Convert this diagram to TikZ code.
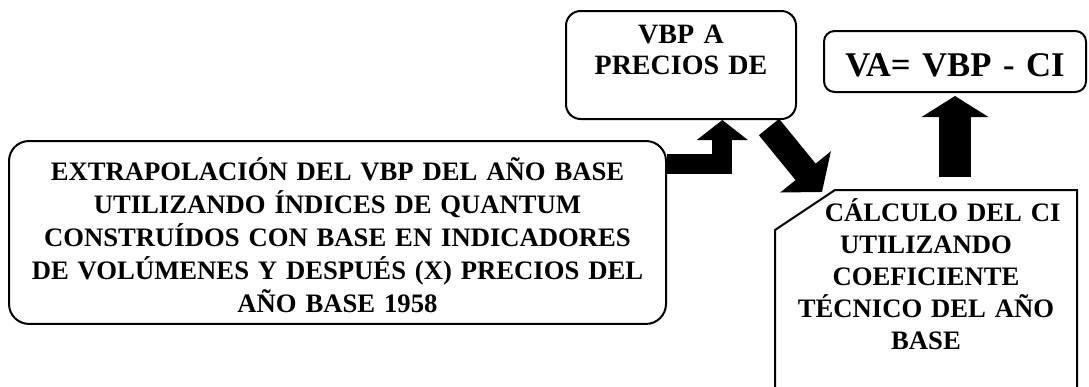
\documentclass[tikz,border=0pt]{standalone}
\usepackage{fontspec}
\setmainfont{Liberation Serif}
\usetikzlibrary{arrows.meta}

\begin{document}
\begin{tikzpicture}
[
    roundbox/.style={draw, line width=1.5pt, rounded corners=#1, anchor=north west,
        inner sep=0pt, align=center, font=\bfseries\fontsize{20pt}{24pt}\selectfont},
    roundbox/.default=12pt,
    fatarrow/.style={line width=#1, line join=miter},
]
\useasboundingbox (0,0) rectangle (816.75pt,-289.5pt);
\clip (0,0) rectangle (816.75pt,-289.5pt);

\node (big) [roundbox=15pt, text width=492.75pt, text height=29.6pt, text depth=107.6pt,
    font=\bfseries\fontsize{20pt}{24.75pt}\selectfont] at (6pt,-105pt)
{EXTRAPOLACIÓN DEL VBP DEL AÑO BASE\\
UTILIZANDO ÍNDICES DE QUANTUM\\
CONSTRUÍDOS CON BASE EN INDICADORES\\
DE VOLÚMENES Y DESPUÉS (X) PRECIOS DEL\\
AÑO BASE 1958};

\node (vbp) [roundbox=11pt, text width=172.5pt, text height=24pt, text depth=57pt,
    font=\bfseries\fontsize{21pt}{23.25pt}\selectfont] at (423.75pt,-7.5pt)
{VBP A\\PRECIOS DE};

\node (va) [roundbox=8pt, text width=196.5pt, text height=33.75pt, text depth=12pt,
    font=\bfseries\fontsize{26pt}{30pt}\selectfont] at (617.25pt,-22.5pt)
{VA= VBP - CI};

\node (ci) [roundbox=0pt, draw=none, text width=225pt, text height=22.5pt, text depth=250pt]
    at (581.25pt,-142.5pt)
{\hspace*{25pt}CÁLCULO DEL CI\\
UTILIZANDO\\
COEFICIENTE\\
TÉCNICO DEL AÑO\\
BASE};
\draw[line width=1.5pt] ([yshift=-30pt]ci.north west) -- ([xshift=45pt]ci.north west)
    -- (ci.north east) -- (ci.south east) -- (ci.south west) -- cycle;

\draw[fatarrow=15pt, -{Triangle[length=15pt,width=37.5pt]}]
    ([yshift=-18pt]big.north east) -| ([xshift=31pt]vbp.south);
\draw[fatarrow=19.5pt, -{Triangle[length=19.5pt,width=48pt]}]
    ([xshift=-21pt,yshift=-5.25pt]vbp.south east) -- ([xshift=35.25pt,yshift=-1.5pt]ci.north west);
\draw[fatarrow=24pt, -{Triangle[length=15.75pt,width=49.5pt]}]
    ([xshift=21.75pt,yshift=9.75pt]ci.north) -- ([yshift=-2.25pt]va.south);
\end{tikzpicture}
\end{document}
